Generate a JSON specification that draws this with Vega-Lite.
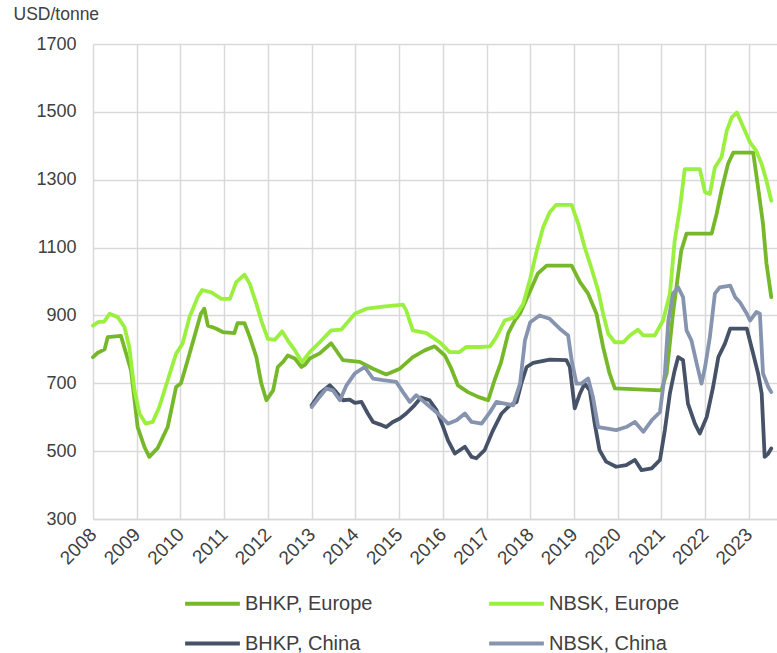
{
  "$schema": "https://vega.github.io/schema/vega-lite/v6.json",
  "autosize": {"type": "none"},
  "width": 684,
  "height": 475,
  "padding": {"left": 93, "top": 44, "right": 0, "bottom": 134},
  "config": {
    "font": "Liberation Sans",
    "view": {"stroke": null},
    "axis": {"labelFont": "Liberation Sans", "labelColor": "#404040", "titleColor": "#404040", "gridColor": "#d9d9d9", "gridWidth": 1.5, "ticks": false}
  },
  "data": {"values": [
    {"date":"2008-01-01","series":"BHKP, Europe","price":777},
    {"date":"2008-02-10","series":"BHKP, Europe","price":790},
    {"date":"2008-04-07","series":"BHKP, Europe","price":800},
    {"date":"2008-05-03","series":"BHKP, Europe","price":836},
    {"date":"2008-08-21","series":"BHKP, Europe","price":840},
    {"date":"2008-11-14","series":"BHKP, Europe","price":738},
    {"date":"2009-01-08","series":"BHKP, Europe","price":571},
    {"date":"2009-03-05","series":"BHKP, Europe","price":513},
    {"date":"2009-04-15","series":"BHKP, Europe","price":483},
    {"date":"2009-06-24","series":"BHKP, Europe","price":509},
    {"date":"2009-09-16","series":"BHKP, Europe","price":571},
    {"date":"2009-11-25","series":"BHKP, Europe","price":689},
    {"date":"2010-01-05","series":"BHKP, Europe","price":700},
    {"date":"2010-03-02","series":"BHKP, Europe","price":768},
    {"date":"2010-04-26","series":"BHKP, Europe","price":836},
    {"date":"2010-06-20","series":"BHKP, Europe","price":905},
    {"date":"2010-07-19","series":"BHKP, Europe","price":920},
    {"date":"2010-08-18","series":"BHKP, Europe","price":870},
    {"date":"2010-10-19","series":"BHKP, Europe","price":862},
    {"date":"2010-12-20","series":"BHKP, Europe","price":851},
    {"date":"2011-03-27","series":"BHKP, Europe","price":848},
    {"date":"2011-04-22","series":"BHKP, Europe","price":877},
    {"date":"2011-06-20","series":"BHKP, Europe","price":877},
    {"date":"2011-08-03","series":"BHKP, Europe","price":836},
    {"date":"2011-09-27","series":"BHKP, Europe","price":777},
    {"date":"2011-11-07","series":"BHKP, Europe","price":700},
    {"date":"2011-12-20","series":"BHKP, Europe","price":650},
    {"date":"2012-02-14","series":"BHKP, Europe","price":679},
    {"date":"2012-03-24","series":"BHKP, Europe","price":748},
    {"date":"2012-05-07","series":"BHKP, Europe","price":763},
    {"date":"2012-06-16","series":"BHKP, Europe","price":782},
    {"date":"2012-08-14","series":"BHKP, Europe","price":773},
    {"date":"2012-10-08","series":"BHKP, Europe","price":748},
    {"date":"2012-11-07","series":"BHKP, Europe","price":755},
    {"date":"2012-12-16","series":"BHKP, Europe","price":773},
    {"date":"2013-03-09","series":"BHKP, Europe","price":788},
    {"date":"2013-06-13","series":"BHKP, Europe","price":818},
    {"date":"2013-09-20","series":"BHKP, Europe","price":768},
    {"date":"2014-02-07","series":"BHKP, Europe","price":763},
    {"date":"2014-05-29","series":"BHKP, Europe","price":743},
    {"date":"2014-09-16","series":"BHKP, Europe","price":726},
    {"date":"2015-01-08","series":"BHKP, Europe","price":743},
    {"date":"2015-04-26","series":"BHKP, Europe","price":777},
    {"date":"2015-08-03","series":"BHKP, Europe","price":797},
    {"date":"2015-10-26","series":"BHKP, Europe","price":809},
    {"date":"2016-01-19","series":"BHKP, Europe","price":782},
    {"date":"2016-03-13","series":"BHKP, Europe","price":743},
    {"date":"2016-05-07","series":"BHKP, Europe","price":694},
    {"date":"2016-07-30","series":"BHKP, Europe","price":674},
    {"date":"2016-10-23","series":"BHKP, Europe","price":660},
    {"date":"2017-01-15","series":"BHKP, Europe","price":650},
    {"date":"2017-03-09","series":"BHKP, Europe","price":709},
    {"date":"2017-05-01","series":"BHKP, Europe","price":760},
    {"date":"2017-07-01","series":"BHKP, Europe","price":847},
    {"date":"2017-08-25","series":"BHKP, Europe","price":885},
    {"date":"2017-10-08","series":"BHKP, Europe","price":906},
    {"date":"2018-01-01","series":"BHKP, Europe","price":973},
    {"date":"2018-03-05","series":"BHKP, Europe","price":1023},
    {"date":"2018-05-18","series":"BHKP, Europe","price":1047},
    {"date":"2018-12-13","series":"BHKP, Europe","price":1047},
    {"date":"2019-02-21","series":"BHKP, Europe","price":998},
    {"date":"2019-04-30","series":"BHKP, Europe","price":964},
    {"date":"2019-07-08","series":"BHKP, Europe","price":906},
    {"date":"2019-09-02","series":"BHKP, Europe","price":807},
    {"date":"2019-10-26","series":"BHKP, Europe","price":729},
    {"date":"2019-12-09","series":"BHKP, Europe","price":685},
    {"date":"2021-01-01","series":"BHKP, Europe","price":679},
    {"date":"2021-02-14","series":"BHKP, Europe","price":729},
    {"date":"2021-04-08","series":"BHKP, Europe","price":906},
    {"date":"2021-06-16","series":"BHKP, Europe","price":1091},
    {"date":"2021-07-30","series":"BHKP, Europe","price":1141},
    {"date":"2022-02-25","series":"BHKP, Europe","price":1141},
    {"date":"2022-04-08","series":"BHKP, Europe","price":1200},
    {"date":"2022-05-18","series":"BHKP, Europe","price":1268},
    {"date":"2022-07-12","series":"BHKP, Europe","price":1347},
    {"date":"2022-08-25","series":"BHKP, Europe","price":1380},
    {"date":"2023-02-07","series":"BHKP, Europe","price":1380},
    {"date":"2023-03-20","series":"BHKP, Europe","price":1277},
    {"date":"2023-04-30","series":"BHKP, Europe","price":1170},
    {"date":"2023-05-29","series":"BHKP, Europe","price":1053},
    {"date":"2023-07-08","series":"BHKP, Europe","price":954},

    {"date":"2008-01-01","series":"NBSK, Europe","price":870},
    {"date":"2008-02-10","series":"NBSK, Europe","price":880},
    {"date":"2008-04-04","series":"NBSK, Europe","price":882},
    {"date":"2008-05-18","series":"NBSK, Europe","price":905},
    {"date":"2008-07-26","series":"NBSK, Europe","price":895},
    {"date":"2008-09-20","series":"NBSK, Europe","price":866},
    {"date":"2008-10-30","series":"NBSK, Europe","price":807},
    {"date":"2008-12-13","series":"NBSK, Europe","price":679},
    {"date":"2009-01-23","series":"NBSK, Europe","price":611},
    {"date":"2009-03-17","series":"NBSK, Europe","price":581},
    {"date":"2009-05-14","series":"NBSK, Europe","price":586},
    {"date":"2009-07-08","series":"NBSK, Europe","price":630},
    {"date":"2009-09-16","series":"NBSK, Europe","price":709},
    {"date":"2009-11-25","series":"NBSK, Europe","price":787},
    {"date":"2010-01-19","series":"NBSK, Europe","price":817},
    {"date":"2010-03-17","series":"NBSK, Europe","price":895},
    {"date":"2010-05-25","series":"NBSK, Europe","price":954},
    {"date":"2010-07-01","series":"NBSK, Europe","price":975},
    {"date":"2010-09-16","series":"NBSK, Europe","price":968},
    {"date":"2010-12-09","series":"NBSK, Europe","price":949},
    {"date":"2011-02-18","series":"NBSK, Europe","price":949},
    {"date":"2011-04-12","series":"NBSK, Europe","price":998},
    {"date":"2011-06-20","series":"NBSK, Europe","price":1020},
    {"date":"2011-08-03","series":"NBSK, Europe","price":993},
    {"date":"2011-09-27","series":"NBSK, Europe","price":934},
    {"date":"2011-11-07","series":"NBSK, Europe","price":885},
    {"date":"2012-01-01","series":"NBSK, Europe","price":831},
    {"date":"2012-02-28","series":"NBSK, Europe","price":828},
    {"date":"2012-04-30","series":"NBSK, Europe","price":853},
    {"date":"2012-06-16","series":"NBSK, Europe","price":826},
    {"date":"2012-08-14","series":"NBSK, Europe","price":797},
    {"date":"2012-10-12","series":"NBSK, Europe","price":762},
    {"date":"2012-12-16","series":"NBSK, Europe","price":792},
    {"date":"2013-03-09","series":"NBSK, Europe","price":821},
    {"date":"2013-06-13","series":"NBSK, Europe","price":856},
    {"date":"2013-09-05","series":"NBSK, Europe","price":858},
    {"date":"2013-12-28","series":"NBSK, Europe","price":905},
    {"date":"2014-04-04","series":"NBSK, Europe","price":920},
    {"date":"2014-08-21","series":"NBSK, Europe","price":926},
    {"date":"2015-02-03","series":"NBSK, Europe","price":932},
    {"date":"2015-03-02","series":"NBSK, Europe","price":915},
    {"date":"2015-04-26","series":"NBSK, Europe","price":856},
    {"date":"2015-08-18","series":"NBSK, Europe","price":848},
    {"date":"2015-12-06","series":"NBSK, Europe","price":821},
    {"date":"2016-02-28","series":"NBSK, Europe","price":792},
    {"date":"2016-05-21","series":"NBSK, Europe","price":792},
    {"date":"2016-07-15","series":"NBSK, Europe","price":807},
    {"date":"2016-11-07","series":"NBSK, Europe","price":807},
    {"date":"2017-01-30","series":"NBSK, Europe","price":809},
    {"date":"2017-03-24","series":"NBSK, Europe","price":836},
    {"date":"2017-06-02","series":"NBSK, Europe","price":885},
    {"date":"2017-08-25","series":"NBSK, Europe","price":895},
    {"date":"2017-11-03","series":"NBSK, Europe","price":934},
    {"date":"2018-01-01","series":"NBSK, Europe","price":1008},
    {"date":"2018-02-25","series":"NBSK, Europe","price":1091},
    {"date":"2018-04-19","series":"NBSK, Europe","price":1160},
    {"date":"2018-06-13","series":"NBSK, Europe","price":1204},
    {"date":"2018-08-07","series":"NBSK, Europe","price":1226},
    {"date":"2018-12-13","series":"NBSK, Europe","price":1226},
    {"date":"2019-02-07","series":"NBSK, Europe","price":1170},
    {"date":"2019-04-01","series":"NBSK, Europe","price":1101},
    {"date":"2019-05-25","series":"NBSK, Europe","price":1042},
    {"date":"2019-07-23","series":"NBSK, Europe","price":973},
    {"date":"2019-09-02","series":"NBSK, Europe","price":905},
    {"date":"2019-10-15","series":"NBSK, Europe","price":846},
    {"date":"2019-12-09","series":"NBSK, Europe","price":821},
    {"date":"2020-02-18","series":"NBSK, Europe","price":821},
    {"date":"2020-04-12","series":"NBSK, Europe","price":841},
    {"date":"2020-06-20","series":"NBSK, Europe","price":858},
    {"date":"2020-08-03","series":"NBSK, Europe","price":841},
    {"date":"2020-11-07","series":"NBSK, Europe","price":841},
    {"date":"2021-01-15","series":"NBSK, Europe","price":885},
    {"date":"2021-03-13","series":"NBSK, Europe","price":964},
    {"date":"2021-04-22","series":"NBSK, Europe","price":1120},
    {"date":"2021-06-06","series":"NBSK, Europe","price":1218},
    {"date":"2021-07-15","series":"NBSK, Europe","price":1331},
    {"date":"2021-11-18","series":"NBSK, Europe","price":1331},
    {"date":"2022-01-01","series":"NBSK, Europe","price":1263},
    {"date":"2022-02-10","series":"NBSK, Europe","price":1258},
    {"date":"2022-03-24","series":"NBSK, Europe","price":1336},
    {"date":"2022-05-18","series":"NBSK, Europe","price":1366},
    {"date":"2022-07-01","series":"NBSK, Europe","price":1444},
    {"date":"2022-08-11","series":"NBSK, Europe","price":1483},
    {"date":"2022-09-24","series":"NBSK, Europe","price":1498},
    {"date":"2022-11-18","series":"NBSK, Europe","price":1454},
    {"date":"2023-01-12","series":"NBSK, Europe","price":1410},
    {"date":"2023-03-05","series":"NBSK, Europe","price":1385},
    {"date":"2023-04-19","series":"NBSK, Europe","price":1346},
    {"date":"2023-05-29","series":"NBSK, Europe","price":1297},
    {"date":"2023-07-08","series":"NBSK, Europe","price":1238},

    {"date":"2013-01-01","series":"BHKP, China","price":635},
    {"date":"2013-03-09","series":"BHKP, China","price":670},
    {"date":"2013-06-02","series":"BHKP, China","price":694},
    {"date":"2013-07-26","series":"BHKP, China","price":674},
    {"date":"2013-09-20","series":"BHKP, China","price":650},
    {"date":"2013-11-14","series":"BHKP, China","price":652},
    {"date":"2013-12-28","series":"BHKP, China","price":642},
    {"date":"2014-02-21","series":"BHKP, China","price":645},
    {"date":"2014-04-15","series":"BHKP, China","price":611},
    {"date":"2014-05-29","series":"BHKP, China","price":586},
    {"date":"2014-07-23","series":"BHKP, China","price":579},
    {"date":"2014-09-16","series":"BHKP, China","price":571},
    {"date":"2014-11-10","series":"BHKP, China","price":586},
    {"date":"2015-01-08","series":"BHKP, China","price":596},
    {"date":"2015-03-02","series":"BHKP, China","price":611},
    {"date":"2015-05-10","series":"BHKP, China","price":635},
    {"date":"2015-07-04","series":"BHKP, China","price":658},
    {"date":"2015-09-13","series":"BHKP, China","price":650},
    {"date":"2015-11-10","series":"BHKP, China","price":621},
    {"date":"2016-01-05","series":"BHKP, China","price":571},
    {"date":"2016-02-14","series":"BHKP, China","price":532},
    {"date":"2016-04-12","series":"BHKP, China","price":493},
    {"date":"2016-07-04","series":"BHKP, China","price":513},
    {"date":"2016-08-29","series":"BHKP, China","price":483},
    {"date":"2016-10-08","series":"BHKP, China","price":479},
    {"date":"2016-12-16","series":"BHKP, China","price":503},
    {"date":"2017-02-25","series":"BHKP, China","price":562},
    {"date":"2017-05-07","series":"BHKP, China","price":611},
    {"date":"2017-07-15","series":"BHKP, China","price":635},
    {"date":"2017-09-09","series":"BHKP, China","price":645},
    {"date":"2017-10-19","series":"BHKP, China","price":700},
    {"date":"2017-12-02","series":"BHKP, China","price":748},
    {"date":"2018-01-26","series":"BHKP, China","price":760},
    {"date":"2018-06-13","series":"BHKP, China","price":770},
    {"date":"2018-10-30","series":"BHKP, China","price":768},
    {"date":"2018-11-28","series":"BHKP, China","price":748},
    {"date":"2019-01-08","series":"BHKP, China","price":626},
    {"date":"2019-02-21","series":"BHKP, China","price":670},
    {"date":"2019-04-01","series":"BHKP, China","price":699},
    {"date":"2019-05-14","series":"BHKP, China","price":679},
    {"date":"2019-06-24","series":"BHKP, China","price":581},
    {"date":"2019-08-03","series":"BHKP, China","price":503},
    {"date":"2019-09-27","series":"BHKP, China","price":469},
    {"date":"2019-12-20","series":"BHKP, China","price":454},
    {"date":"2020-03-13","series":"BHKP, China","price":459},
    {"date":"2020-05-25","series":"BHKP, China","price":474},
    {"date":"2020-07-19","series":"BHKP, China","price":444},
    {"date":"2020-10-12","series":"BHKP, China","price":449},
    {"date":"2020-12-20","series":"BHKP, China","price":474},
    {"date":"2021-01-30","series":"BHKP, China","price":562},
    {"date":"2021-03-13","series":"BHKP, China","price":670},
    {"date":"2021-04-22","series":"BHKP, China","price":738},
    {"date":"2021-05-21","series":"BHKP, China","price":777},
    {"date":"2021-07-01","series":"BHKP, China","price":768},
    {"date":"2021-08-11","series":"BHKP, China","price":640},
    {"date":"2021-10-08","series":"BHKP, China","price":581},
    {"date":"2021-11-18","series":"BHKP, China","price":552},
    {"date":"2022-01-15","series":"BHKP, China","price":601},
    {"date":"2022-03-09","series":"BHKP, China","price":689},
    {"date":"2022-04-22","series":"BHKP, China","price":777},
    {"date":"2022-06-16","series":"BHKP, China","price":817},
    {"date":"2022-07-30","series":"BHKP, China","price":861},
    {"date":"2022-12-16","series":"BHKP, China","price":861},
    {"date":"2023-02-07","series":"BHKP, China","price":787},
    {"date":"2023-03-20","series":"BHKP, China","price":729},
    {"date":"2023-04-19","series":"BHKP, China","price":670},
    {"date":"2023-05-14","series":"BHKP, China","price":483},
    {"date":"2023-06-13","series":"BHKP, China","price":493},
    {"date":"2023-07-08","series":"BHKP, China","price":508},

    {"date":"2013-01-01","series":"NBSK, China","price":630},
    {"date":"2013-02-25","series":"NBSK, China","price":655},
    {"date":"2013-05-03","series":"NBSK, China","price":684},
    {"date":"2013-06-27","series":"NBSK, China","price":679},
    {"date":"2013-08-25","series":"NBSK, China","price":650},
    {"date":"2013-10-19","series":"NBSK, China","price":694},
    {"date":"2013-12-28","series":"NBSK, China","price":729},
    {"date":"2014-03-20","series":"NBSK, China","price":748},
    {"date":"2014-05-29","series":"NBSK, China","price":714},
    {"date":"2014-08-21","series":"NBSK, China","price":709},
    {"date":"2014-12-09","series":"NBSK, China","price":704},
    {"date":"2015-02-03","series":"NBSK, China","price":674},
    {"date":"2015-04-01","series":"NBSK, China","price":645},
    {"date":"2015-05-25","series":"NBSK, China","price":665},
    {"date":"2015-09-02","series":"NBSK, China","price":635},
    {"date":"2015-11-21","series":"NBSK, China","price":611},
    {"date":"2016-02-14","series":"NBSK, China","price":581},
    {"date":"2016-04-26","series":"NBSK, China","price":591},
    {"date":"2016-07-04","series":"NBSK, China","price":611},
    {"date":"2016-08-29","series":"NBSK, China","price":586},
    {"date":"2016-11-21","series":"NBSK, China","price":581},
    {"date":"2017-01-30","series":"NBSK, China","price":615},
    {"date":"2017-03-24","series":"NBSK, China","price":645},
    {"date":"2017-06-02","series":"NBSK, China","price":640},
    {"date":"2017-08-11","series":"NBSK, China","price":635},
    {"date":"2017-10-08","series":"NBSK, China","price":699},
    {"date":"2017-11-18","series":"NBSK, China","price":826},
    {"date":"2018-01-01","series":"NBSK, China","price":880},
    {"date":"2018-03-20","series":"NBSK, China","price":900},
    {"date":"2018-06-13","series":"NBSK, China","price":890},
    {"date":"2018-09-05","series":"NBSK, China","price":861},
    {"date":"2018-11-14","series":"NBSK, China","price":841},
    {"date":"2018-12-13","series":"NBSK, China","price":768},
    {"date":"2019-01-23","series":"NBSK, China","price":699},
    {"date":"2019-03-05","series":"NBSK, China","price":699},
    {"date":"2019-04-30","series":"NBSK, China","price":714},
    {"date":"2019-06-09","series":"NBSK, China","price":660},
    {"date":"2019-07-23","series":"NBSK, China","price":571},
    {"date":"2019-09-27","series":"NBSK, China","price":567},
    {"date":"2019-12-20","series":"NBSK, China","price":562},
    {"date":"2020-03-13","series":"NBSK, China","price":571},
    {"date":"2020-05-25","series":"NBSK, China","price":586},
    {"date":"2020-08-03","series":"NBSK, China","price":557},
    {"date":"2020-10-12","series":"NBSK, China","price":591},
    {"date":"2020-12-20","series":"NBSK, China","price":615},
    {"date":"2021-01-30","series":"NBSK, China","price":729},
    {"date":"2021-02-28","series":"NBSK, China","price":885},
    {"date":"2021-04-08","series":"NBSK, China","price":964},
    {"date":"2021-05-21","series":"NBSK, China","price":983},
    {"date":"2021-07-01","series":"NBSK, China","price":954},
    {"date":"2021-07-30","series":"NBSK, China","price":856},
    {"date":"2021-09-09","series":"NBSK, China","price":826},
    {"date":"2021-10-23","series":"NBSK, China","price":758},
    {"date":"2021-12-02","series":"NBSK, China","price":699},
    {"date":"2022-01-01","series":"NBSK, China","price":748},
    {"date":"2022-02-10","series":"NBSK, China","price":836},
    {"date":"2022-03-24","series":"NBSK, China","price":964},
    {"date":"2022-05-03","series":"NBSK, China","price":983},
    {"date":"2022-07-30","series":"NBSK, China","price":988},
    {"date":"2022-09-09","series":"NBSK, China","price":954},
    {"date":"2022-10-19","series":"NBSK, China","price":939},
    {"date":"2022-12-16","series":"NBSK, China","price":905},
    {"date":"2023-01-12","series":"NBSK, China","price":885},
    {"date":"2023-03-05","series":"NBSK, China","price":910},
    {"date":"2023-04-04","series":"NBSK, China","price":905},
    {"date":"2023-04-30","series":"NBSK, China","price":729},
    {"date":"2023-06-13","series":"NBSK, China","price":689},
    {"date":"2023-07-08","series":"NBSK, China","price":674}
  ]},
  "mark": {"type": "line", "strokeWidth": 3.8, "strokeJoin": "round", "strokeCap": "round"},
  "encoding": {
    "x": {
      "field": "date", "type": "temporal",
      "scale": {"domain": ["2008-01-01", "2023-08-25"]},
      "axis": {"title": null, "format": "%Y", "tickCount": {"interval": "year", "step": 1}, "labelAngle": -45, "labelAlign": "right", "labelBaseline": "middle", "labelFontSize": 19, "labelPadding": 12, "domainColor": "#d9d9d9", "domainWidth": 1.5, "labelFlush": false, "labelOverlap": false}
    },
    "y": {
      "field": "price", "type": "quantitative",
      "scale": {"domain": [300, 1700], "nice": false},
      "axis": {"title": "USD/tonne", "titleAngle": 0, "titleX": -80, "titleY": -30, "titleAlign": "left", "titleBaseline": "middle", "titleFontSize": 17.5, "titleFontWeight": "normal", "values": [300, 500, 700, 900, 1100, 1300, 1500, 1700], "format": "d", "labelFontSize": 18, "labelPadding": 17, "domain": false}
    },
    "color": {
      "field": "series", "type": "nominal",
      "scale": {"domain": ["BHKP, Europe", "NBSK, Europe", "BHKP, China", "NBSK, China"], "range": ["#76b82a", "#9bef3e", "#465268", "#8794b0"]},
      "legend": {"title": null, "orient": "none", "direction": "horizontal", "legendX": 90, "legendY": 530, "columns": 2, "symbolType": "stroke", "symbolSize": 3000, "symbolStrokeWidth": 4, "labelFontSize": 20, "labelColor": "#404040", "labelOffset": 3, "columnPadding": 108, "rowPadding": -30, "labelLimit": 300}
    }
  }
}
